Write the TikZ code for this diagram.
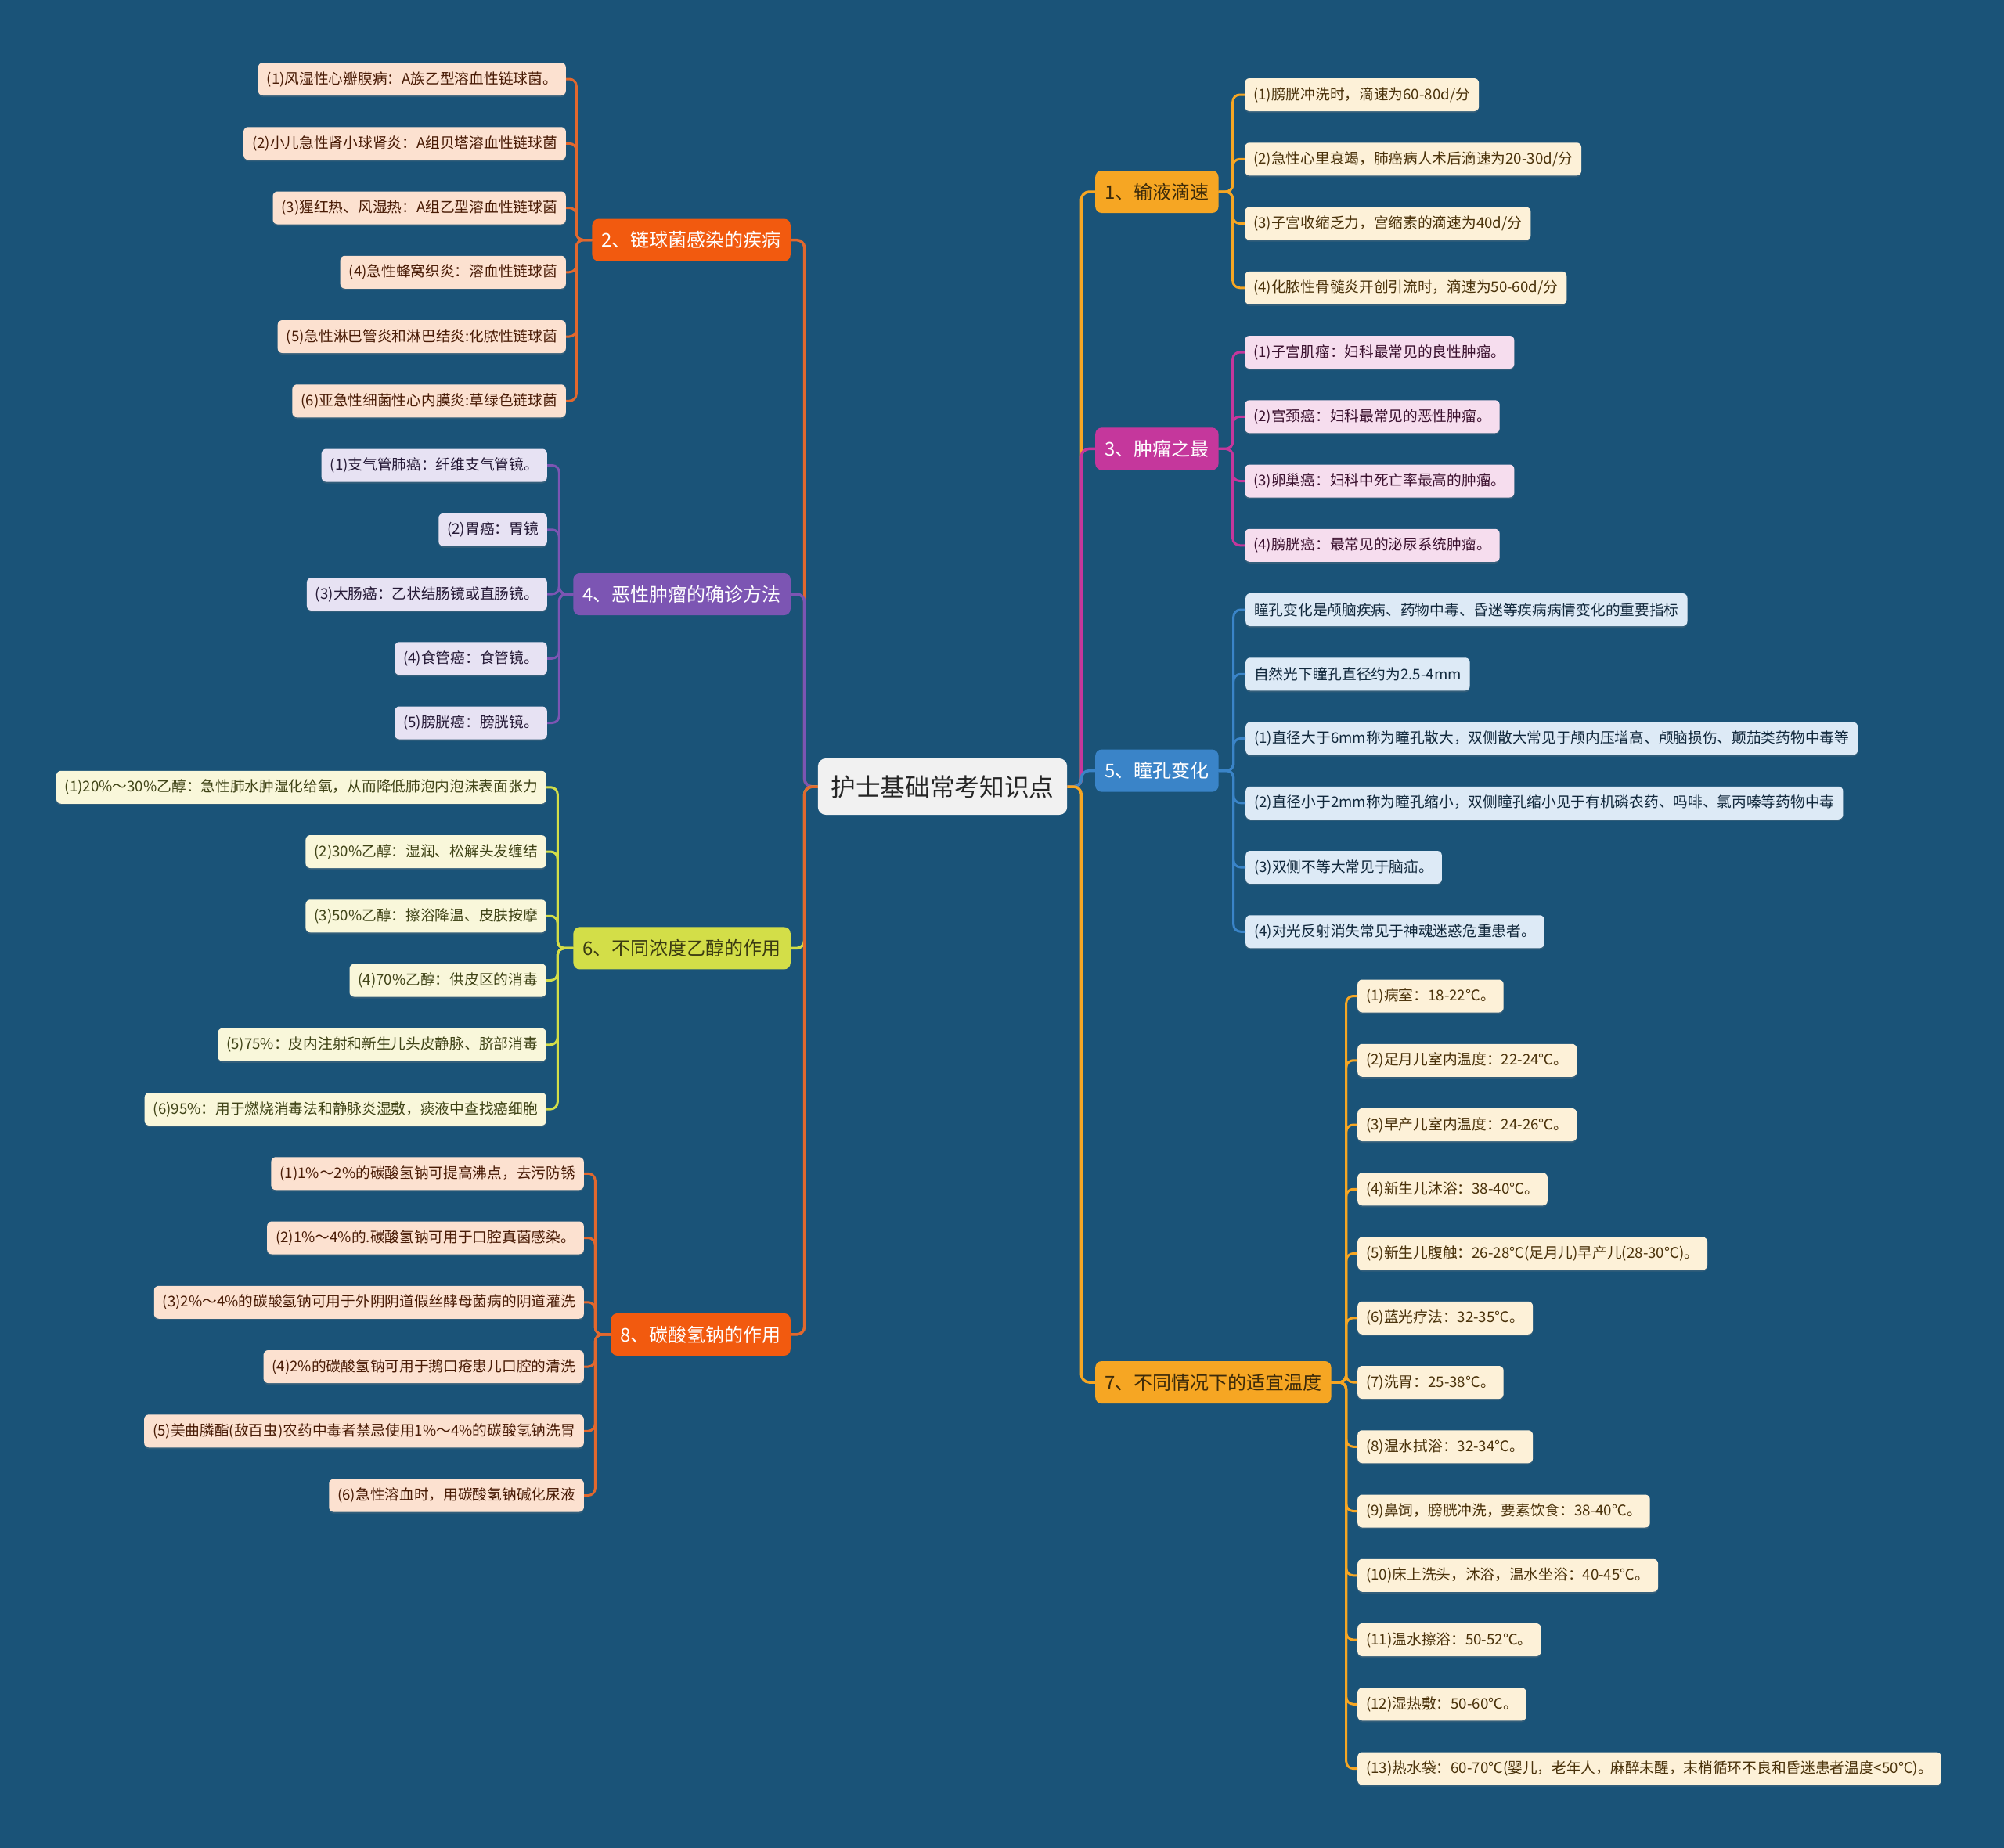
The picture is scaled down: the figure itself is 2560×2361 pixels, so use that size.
\documentclass[tikz,border=0pt]{standalone}
\usepackage{fontspec}
\setmainfont{Noto Sans CJK SC}
\usetikzlibrary{shadows}
\definecolor{bgblue}{HTML}{1A5378}
\definecolor{mmgold}{HTML}{F6A623}
\definecolor{mmgoldleaf}{HTML}{FDF1D8}
\definecolor{mmgoldtext}{HTML}{3D2B0A}
\definecolor{mmflame}{HTML}{F25A0F}
\definecolor{mmflameline}{HTML}{E2682E}
\definecolor{mmflameleaf}{HTML}{FCE1D0}
\definecolor{mmberry}{HTML}{C5379C}
\definecolor{mmberryleaf}{HTML}{F6DDEE}
\definecolor{mmgrape}{HTML}{7C55B3}
\definecolor{mmgrapeleaf}{HTML}{E7E2F3}
\definecolor{mmsky}{HTML}{3A84C8}
\definecolor{mmskyleaf}{HTML}{DDEAF6}
\definecolor{mmlime}{HTML}{D3DE48}
\definecolor{mmlimeleaf}{HTML}{F9F7DA}
\definecolor{mmlimetext}{HTML}{3B3B12}
\definecolor{rootgray}{HTML}{F1F1F1}
\tikzset{
	rootbox/.style={rectangle, rounded corners=10pt, fill=rootgray, text=black!85, minimum height=72pt, inner xsep=16.5pt, font=\fontsize{31.7pt}{36pt}\selectfont},
	branchbox/.style 2 args={rectangle, rounded corners=8pt, fill=#1, text=#2, minimum height=54pt, inner xsep=12pt, font=\fontsize{24pt}{28pt}\selectfont},
	leafbox/.style 2 args={rectangle, rounded corners=6pt, fill=#1, text=#2!30!black, minimum height=42pt, inner xsep=11pt, font=\fontsize{18.7pt}{22pt}\selectfont, drop shadow={shadow xshift=0pt, shadow yshift=-2pt, opacity=0.25}},
	link/.style={draw=#1, line width=3.5pt, rounded corners=10pt},
	twig/.style={draw=#1, line width=3pt, rounded corners=9pt}
}
\begin{document}
\begin{tikzpicture}[x=1pt, y=-1pt]
		\path[use as bounding box, fill=bgblue] (0,0) rectangle (2560,2361);
		\node[rootbox] (root) at (1204,1005) {护士基础常考知识点};
		%
		\node[branchbox={mmgold}{mmgoldtext}, anchor=west] (b1) at (1399,245) {1、输液滴速};
		\node[branchbox={mmberry}{white}, anchor=west] (b3) at (1399,573.4) {3、肿瘤之最};
		\node[branchbox={mmsky}{white}, anchor=west] (b5) at (1399,984.6) {5、瞳孔变化};
		\node[branchbox={mmgold}{mmgoldtext}, anchor=west] (b7) at (1399,1766) {7、不同情况下的适宜温度};
		\node[branchbox={mmflame}{white}, anchor=east] (b2) at (1010,306.6) {2、链球菌感染的疾病};
		\node[branchbox={mmgrape}{white}, anchor=east] (b4) at (1010,759) {4、恶性肿瘤的确诊方法};
		\node[branchbox={mmlime}{mmlimetext}, anchor=east] (b6) at (1010,1211.4) {6、不同浓度乙醇的作用};
		\node[branchbox={mmflame}{white}, anchor=east] (b8) at (1010,1704.9) {8、碳酸氢钠的作用};
		%
		\draw[link=mmgold] (root.east) -- ++(18,0) |- (b1.west);
		\draw[link=mmberry] (root.east) -- ++(18,0) |- (b3.west);
		\draw[link=mmsky] (root.east) -- ++(18,0) |- (b5.west);
		\draw[link=mmgold] (root.east) -- ++(18,0) |- (b7.west);
		\draw[link=mmflameline] (root.west) -- ++(-17,0) |- (b2.east);
		\draw[link=mmgrape] (root.west) -- ++(-17,0) |- (b4.east);
		\draw[link=mmlime] (root.west) -- ++(-17,0) |- (b6.east);
		\draw[link=mmflameline] (root.west) -- ++(-17,0) |- (b8.east);
		%
		\node[leafbox={mmgoldleaf}{mmgold}, anchor=west] (l11) at (1590,121) {(1)膀胱冲洗时，滴速为60-80d/分};
		\node[leafbox={mmgoldleaf}{mmgold}, anchor=west] (l12) at (1590,203.25) {(2)急性心里衰竭，肺癌病人术后滴速为20-30d/分};
		\node[leafbox={mmgoldleaf}{mmgold}, anchor=west] (l13) at (1590,285.5) {(3)子宫收缩乏力，宫缩素的滴速为40d/分};
		\node[leafbox={mmgoldleaf}{mmgold}, anchor=west] (l14) at (1590,367.75) {(4)化脓性骨髓炎开创引流时，滴速为50-60d/分};
		\draw[twig=mmgold] (b1.east) -- ++(18,0) |- (l11.west);
		\draw[twig=mmgold] (b1.east) -- ++(18,0) |- (l12.west);
		\draw[twig=mmgold] (b1.east) -- ++(18,0) |- (l13.west);
		\draw[twig=mmgold] (b1.east) -- ++(18,0) |- (l14.west);
		%
		\node[leafbox={mmberryleaf}{mmberry}, anchor=west] (l31) at (1590,450) {(1)子宫肌瘤：妇科最常见的良性肿瘤。};
		\node[leafbox={mmberryleaf}{mmberry}, anchor=west] (l32) at (1590,532.25) {(2)宫颈癌：妇科最常见的恶性肿瘤。};
		\node[leafbox={mmberryleaf}{mmberry}, anchor=west] (l33) at (1590,614.5) {(3)卵巢癌：妇科中死亡率最高的肿瘤。};
		\node[leafbox={mmberryleaf}{mmberry}, anchor=west] (l34) at (1590,696.75) {(4)膀胱癌：最常见的泌尿系统肿瘤。};
		\draw[twig=mmberry] (b3.east) -- ++(18,0) |- (l31.west);
		\draw[twig=mmberry] (b3.east) -- ++(18,0) |- (l32.west);
		\draw[twig=mmberry] (b3.east) -- ++(18,0) |- (l33.west);
		\draw[twig=mmberry] (b3.east) -- ++(18,0) |- (l34.west);
		%
		\node[leafbox={mmskyleaf}{mmsky}, anchor=west] (l51) at (1591,779) {瞳孔变化是颅脑疾病、药物中毒、昏迷等疾病病情变化的重要指标};
		\node[leafbox={mmskyleaf}{mmsky}, anchor=west] (l52) at (1591,861.25) {自然光下瞳孔直径约为2.5-4mm};
		\node[leafbox={mmskyleaf}{mmsky}, anchor=west] (l53) at (1591,943.5) {(1)直径大于6mm称为瞳孔散大，双侧散大常见于颅内压增高、颅脑损伤、颠茄类药物中毒等};
		\node[leafbox={mmskyleaf}{mmsky}, anchor=west] (l54) at (1591,1025.75) {(2)直径小于2mm称为瞳孔缩小，双侧瞳孔缩小见于有机磷农药、吗啡、氯丙嗪等药物中毒};
		\node[leafbox={mmskyleaf}{mmsky}, anchor=west] (l55) at (1591,1108) {(3)双侧不等大常见于脑疝。};
		\node[leafbox={mmskyleaf}{mmsky}, anchor=west] (l56) at (1591,1190.25) {(4)对光反射消失常见于神魂迷惑危重患者。};
		\draw[twig=mmsky] (b5.east) -- ++(19,0) |- (l51.west);
		\draw[twig=mmsky] (b5.east) -- ++(19,0) |- (l52.west);
		\draw[twig=mmsky] (b5.east) -- ++(19,0) |- (l53.west);
		\draw[twig=mmsky] (b5.east) -- ++(19,0) |- (l54.west);
		\draw[twig=mmsky] (b5.east) -- ++(19,0) |- (l55.west);
		\draw[twig=mmsky] (b5.east) -- ++(19,0) |- (l56.west);
		%
		\node[leafbox={mmgoldleaf}{mmgold}, anchor=west] (l71) at (1734,1272.5) {(1)病室：18-22℃。};
		\node[leafbox={mmgoldleaf}{mmgold}, anchor=west] (l72) at (1734,1354.75) {(2)足月儿室内温度：22-24℃。};
		\node[leafbox={mmgoldleaf}{mmgold}, anchor=west] (l73) at (1734,1437) {(3)早产儿室内温度：24-26℃。};
		\node[leafbox={mmgoldleaf}{mmgold}, anchor=west] (l74) at (1734,1519.25) {(4)新生儿沐浴：38-40℃。};
		\node[leafbox={mmgoldleaf}{mmgold}, anchor=west] (l75) at (1734,1601.5) {(5)新生儿腹触：26-28℃(足月儿)早产儿(28-30℃)。};
		\node[leafbox={mmgoldleaf}{mmgold}, anchor=west] (l76) at (1734,1683.75) {(6)蓝光疗法：32-35℃。};
		\node[leafbox={mmgoldleaf}{mmgold}, anchor=west] (l77) at (1734,1766) {(7)洗胃：25-38℃。};
		\node[leafbox={mmgoldleaf}{mmgold}, anchor=west] (l78) at (1734,1848.25) {(8)温水拭浴：32-34℃。};
		\node[leafbox={mmgoldleaf}{mmgold}, anchor=west] (l79) at (1734,1930.5) {(9)鼻饲，膀胱冲洗，要素饮食：38-40℃。};
		\node[leafbox={mmgoldleaf}{mmgold}, anchor=west] (l710) at (1734,2012.75) {(10)床上洗头，沐浴，温水坐浴：40-45℃。};
		\node[leafbox={mmgoldleaf}{mmgold}, anchor=west] (l711) at (1734,2095) {(11)温水擦浴：50-52℃。};
		\node[leafbox={mmgoldleaf}{mmgold}, anchor=west] (l712) at (1734,2177.25) {(12)湿热敷：50-60℃。};
		\node[leafbox={mmgoldleaf}{mmgold}, anchor=west] (l713) at (1734,2259.5) {(13)热水袋：60-70℃(婴儿，老年人，麻醉未醒，末梢循环不良和昏迷患者温度<50℃)。};
		\draw[twig=mmgold] (b7.east) -- ++(19,0) |- (l71.west);
		\draw[twig=mmgold] (b7.east) -- ++(19,0) |- (l72.west);
		\draw[twig=mmgold] (b7.east) -- ++(19,0) |- (l73.west);
		\draw[twig=mmgold] (b7.east) -- ++(19,0) |- (l74.west);
		\draw[twig=mmgold] (b7.east) -- ++(19,0) |- (l75.west);
		\draw[twig=mmgold] (b7.east) -- ++(19,0) |- (l76.west);
		\draw[twig=mmgold] (b7.east) -- ++(19,0) |- (l77.west);
		\draw[twig=mmgold] (b7.east) -- ++(19,0) |- (l78.west);
		\draw[twig=mmgold] (b7.east) -- ++(19,0) |- (l79.west);
		\draw[twig=mmgold] (b7.east) -- ++(19,0) |- (l710.west);
		\draw[twig=mmgold] (b7.east) -- ++(19,0) |- (l711.west);
		\draw[twig=mmgold] (b7.east) -- ++(19,0) |- (l712.west);
		\draw[twig=mmgold] (b7.east) -- ++(19,0) |- (l713.west);
		%
		\node[leafbox={mmflameleaf}{mmflame}, anchor=east] (l21) at (723,101) {(1)风湿性心瓣膜病：A族乙型溶血性链球菌。};
		\node[leafbox={mmflameleaf}{mmflame}, anchor=east] (l22) at (723,183.25) {(2)小儿急性肾小球肾炎：A组贝塔溶血性链球菌};
		\node[leafbox={mmflameleaf}{mmflame}, anchor=east] (l23) at (723,265.5) {(3)猩红热、风湿热：A组乙型溶血性链球菌};
		\node[leafbox={mmflameleaf}{mmflame}, anchor=east] (l24) at (723,347.75) {(4)急性蜂窝织炎：溶血性链球菌};
		\node[leafbox={mmflameleaf}{mmflame}, anchor=east] (l25) at (723,430) {(5)急性淋巴管炎和淋巴结炎:化脓性链球菌};
		\node[leafbox={mmflameleaf}{mmflame}, anchor=east] (l26) at (723,512.25) {(6)亚急性细菌性心内膜炎:草绿色链球菌};
		\draw[twig=mmflameline] (b2.west) -- ++(-20,0) |- (l21.east);
		\draw[twig=mmflameline] (b2.west) -- ++(-20,0) |- (l22.east);
		\draw[twig=mmflameline] (b2.west) -- ++(-20,0) |- (l23.east);
		\draw[twig=mmflameline] (b2.west) -- ++(-20,0) |- (l24.east);
		\draw[twig=mmflameline] (b2.west) -- ++(-20,0) |- (l25.east);
		\draw[twig=mmflameline] (b2.west) -- ++(-20,0) |- (l26.east);
		%
		\node[leafbox={mmgrapeleaf}{mmgrape}, anchor=east] (l41) at (699,594.5) {(1)支气管肺癌：纤维支气管镜。};
		\node[leafbox={mmgrapeleaf}{mmgrape}, anchor=east] (l42) at (699,676.75) {(2)胃癌：胃镜};
		\node[leafbox={mmgrapeleaf}{mmgrape}, anchor=east] (l43) at (699,759) {(3)大肠癌：乙状结肠镜或直肠镜。};
		\node[leafbox={mmgrapeleaf}{mmgrape}, anchor=east] (l44) at (699,841.25) {(4)食管癌：食管镜。};
		\node[leafbox={mmgrapeleaf}{mmgrape}, anchor=east] (l45) at (699,923.5) {(5)膀胱癌：膀胱镜。};
		\draw[twig=mmgrape] (b4.west) -- ++(-18,0) |- (l41.east);
		\draw[twig=mmgrape] (b4.west) -- ++(-18,0) |- (l42.east);
		\draw[twig=mmgrape] (b4.west) -- ++(-18,0) |- (l43.east);
		\draw[twig=mmgrape] (b4.west) -- ++(-18,0) |- (l44.east);
		\draw[twig=mmgrape] (b4.west) -- ++(-18,0) |- (l45.east);
		%
		\node[leafbox={mmlimeleaf}{mmlime}, anchor=east] (l61) at (698,1005.75) {(1)20\%～30\%乙醇：急性肺水肿湿化给氧，从而降低肺泡内泡沫表面张力};
		\node[leafbox={mmlimeleaf}{mmlime}, anchor=east] (l62) at (698,1088) {(2)30\%乙醇：湿润、松解头发缠结};
		\node[leafbox={mmlimeleaf}{mmlime}, anchor=east] (l63) at (698,1170.25) {(3)50\%乙醇：擦浴降温、皮肤按摩};
		\node[leafbox={mmlimeleaf}{mmlime}, anchor=east] (l64) at (698,1252.5) {(4)70\%乙醇：供皮区的消毒};
		\node[leafbox={mmlimeleaf}{mmlime}, anchor=east] (l65) at (698,1334.75) {(5)75\%：皮内注射和新生儿头皮静脉、脐部消毒};
		\node[leafbox={mmlimeleaf}{mmlime}, anchor=east] (l66) at (698,1417) {(6)95\%：用于燃烧消毒法和静脉炎湿敷，痰液中查找癌细胞};
		\draw[twig=mmlime] (b6.west) -- ++(-20,0) |- (l61.east);
		\draw[twig=mmlime] (b6.west) -- ++(-20,0) |- (l62.east);
		\draw[twig=mmlime] (b6.west) -- ++(-20,0) |- (l63.east);
		\draw[twig=mmlime] (b6.west) -- ++(-20,0) |- (l64.east);
		\draw[twig=mmlime] (b6.west) -- ++(-20,0) |- (l65.east);
		\draw[twig=mmlime] (b6.west) -- ++(-20,0) |- (l66.east);
		%
		\node[leafbox={mmflameleaf}{mmflame}, anchor=east] (l81) at (746,1499.25) {(1)1\%～2\%的碳酸氢钠可提高沸点，去污防锈};
		\node[leafbox={mmflameleaf}{mmflame}, anchor=east] (l82) at (746,1581.5) {(2)1\%～4\%的.碳酸氢钠可用于口腔真菌感染。};
		\node[leafbox={mmflameleaf}{mmflame}, anchor=east] (l83) at (746,1663.75) {(3)2\%～4\%的碳酸氢钠可用于外阴阴道假丝酵母菌病的阴道灌洗};
		\node[leafbox={mmflameleaf}{mmflame}, anchor=east] (l84) at (746,1746) {(4)2\%的碳酸氢钠可用于鹅口疮患儿口腔的清洗};
		\node[leafbox={mmflameleaf}{mmflame}, anchor=east] (l85) at (746,1828.25) {(5)美曲膦酯(敌百虫)农药中毒者禁忌使用1\%～4\%的碳酸氢钠洗胃};
		\node[leafbox={mmflameleaf}{mmflame}, anchor=east] (l86) at (746,1910.5) {(6)急性溶血时，用碳酸氢钠碱化尿液};
		\draw[twig=mmflameline] (b8.west) -- ++(-20,0) |- (l81.east);
		\draw[twig=mmflameline] (b8.west) -- ++(-20,0) |- (l82.east);
		\draw[twig=mmflameline] (b8.west) -- ++(-20,0) |- (l83.east);
		\draw[twig=mmflameline] (b8.west) -- ++(-20,0) |- (l84.east);
		\draw[twig=mmflameline] (b8.west) -- ++(-20,0) |- (l85.east);
		\draw[twig=mmflameline] (b8.west) -- ++(-20,0) |- (l86.east);
	\end{tikzpicture}
\end{document}
